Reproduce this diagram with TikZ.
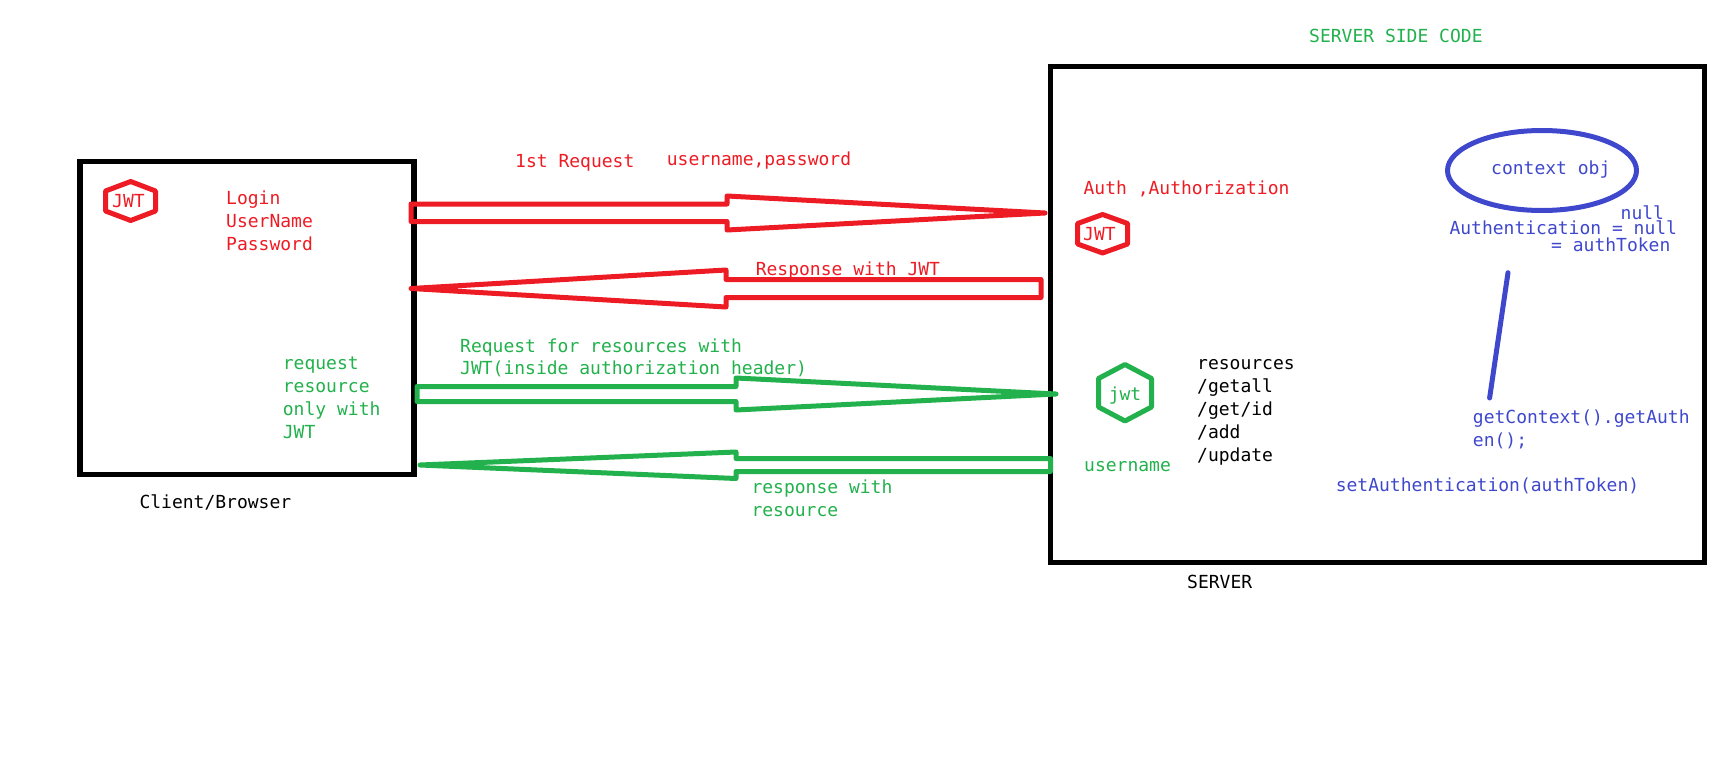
\documentclass[tikz,border=0pt]{standalone}
\usepackage{fontspec}
\setmonofont{DejaVu Sans Mono}
\definecolor{jwtred}{HTML}{ED1C24}
\definecolor{jwtgreen}{HTML}{22B14C}
\definecolor{jwtblue}{HTML}{3F48CC}
\tikzset{
  frame/.style={draw=black,line width=5.4pt,minimum width=#1,inner sep=0pt},
  pen/.style={line width=5pt,line join=round,line cap=round},
  lbl/.style={anchor=base west,inner sep=0pt,align=left,font=\ttfamily\fontsize{18}{23}\selectfont},
}
\begin{document}
\begin{tikzpicture}[x=1pt,y=-1pt]
    \useasboundingbox (0,0) rectangle (1733,774);
    % boxes
    \node[frame=334pt,minimum height=313.5pt] (client) at (247,318) {};
    \node[frame=654pt,minimum height=496pt] (server) at (1377.5,314.5) {};
    \node[lbl] (clientname) at (139.3,508.3) {Client/Browser};
    \node[lbl] (servername) at (1187,588.3) {SERVER};
    \node[lbl,text=jwtgreen] (servertitle) at (1309,42.7) {SERVER SIDE CODE};
    % arrows
    \coordinate (reqtip) at (1045,213);
    \coordinate (resptip) at (411,288.5);
    \coordinate (resreqtip) at (1056,394);
    \coordinate (resresptip) at (420,465);
    \draw[pen,jwtred] (reqtip) --++ (-318,-17) --++ (0,8) --++ (-316,0) --++ (0,17.5) --++ (316,0) --++ (0,8.5) -- cycle;
    \draw[pen,jwtred] (resptip) --++ (315,-18.5) --++ (0,9.5) --++ (315,0) --++ (0,18) --++ (-315,0) --++ (0,9.5) -- cycle;
    \draw[pen,jwtgreen] (resreqtip) --++ (-320,-16) --++ (0,8.5) --++ (-319,0) --++ (0,15) --++ (319,0) --++ (0,8.5) -- cycle;
    \draw[pen,jwtgreen] (resresptip) --++ (316,-13) --++ (0,6.5) --++ (314.5,0) --++ (0,13) --++ (-314.5,0) --++ (0,7) -- cycle;
    % left hexagon
    \draw[pen,jwtred] (130.7,181.5) --++ (24.8,9.5) --++ (0,20) --++ (-24.8,9.5) --++ (-25.2,-9.5) --++ (0,-20) -- cycle;
    \node[lbl,text=jwtred] (clientjwt) at (112,207.3) {JWT};
    \node[lbl,text=jwtred] (loginlbl) at (226,250.7) {Login\\UserName\\Password};
    \node[lbl,text=jwtgreen] (onlylbl) at (282.7,438.3) {request\\resource\\only with\\JWT};
    % arrow labels
    \node[lbl,text=jwtred] (firstlbl) at (515,167.7) {1st Request};
    \node[lbl,text=jwtred] (credlbl) at (666.7,165) {username,password};
    \node[lbl,text=jwtred] (resplbl) at (755.6,275.7) {Response with JWT};
    \node[lbl,text=jwtgreen] (reslbl) at (460,374.3) {Request for resources with\\[-1.3pt]JWT(inside authorization header)};
    \node[lbl,text=jwtgreen] (resresplbl) at (751.3,516.7) {response with\\resource};
    % server side
    \node[lbl,text=jwtred] (authlbl) at (1083.4,194) {Auth ,Authorization};
    \draw[pen,jwtred] (1102.6,214.5) --++ (25,9) --++ (0,20.5) --++ (-25,9) --++ (-25,-9) --++ (0,-20.5) -- cycle;
    \node[lbl,text=jwtred] (serverjwt) at (1083,240) {JWT};
    \draw[pen,jwtgreen] (1125,364.5) --++ (26.5,14) --++ (0,28.5) --++ (-26.5,14) --++ (-26.5,-14) --++ (0,-28.5) -- cycle;
    \node[lbl,text=jwtgreen] (serverjwtsmall) at (1108.6,400) {jwt};
    \node[lbl,text=jwtgreen] (userlbl) at (1084,471.7) {username};
    \node[lbl] (resourcelbl) at (1197,461.7) {resources\\/getall\\/get/id\\/add\\/update};
    % context
    \draw[pen,jwtblue] (1542,170.5) ellipse (94.5 and 40);
    \node[lbl,text=jwtblue] (ctxlbl) at (1491,174) {context obj};
    \node[lbl,text=jwtblue] (nulllbl) at (1620.5,219.3) {null};
    \node[lbl,text=jwtblue] (authnlbl) at (1449.3,234) {Authentication = null};
    \node[lbl,text=jwtblue] (tokenlbl) at (1551,251.7) {= authToken};
    \node[lbl,text=jwtblue] (getlbl) at (1472.7,446.7) {getContext().getAuth\\en();};
    \node[lbl,text=jwtblue] (setlbl) at (1335.6,491) {setAuthentication(authToken)};
    \coordinate (linetop) at (1508,272.7);
    \coordinate (linebottom) at (1489.6,398);
    \draw[pen,jwtblue] (linetop) -- (linebottom);
\end{tikzpicture}
\end{document}
